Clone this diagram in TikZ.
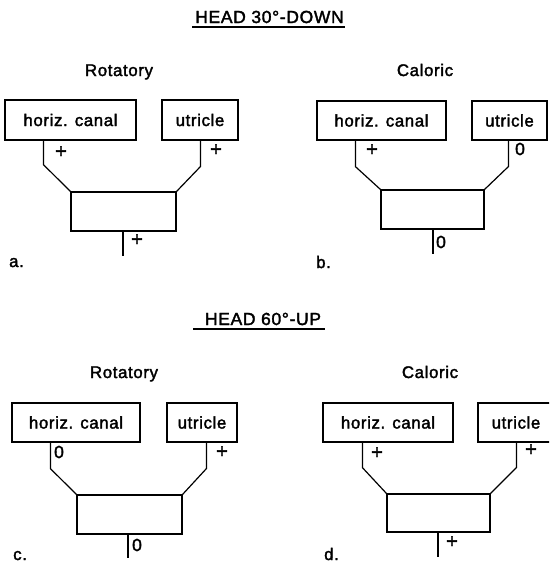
\documentclass[tikz,border=0pt]{standalone}
\usepackage{fontspec}
\setmainfont[LetterSpace=3.8,FakeBold=2]{Liberation Sans}
\begin{document}
\begin{tikzpicture}[x=1pt,y=-1pt,
  ttl/.style={font=\fontsize{17.5}{20}\selectfont, inner sep=0pt, anchor=base},
  hdg/.style={font=\fontsize{16.8}{20}\selectfont, inner sep=0pt, anchor=base},
  plab/.style={font=\fontsize{16.8}{20}\selectfont, inner sep=0pt, anchor=base west},
  sgnp/.style={font=\fontsize{20}{22}\selectfont, inner sep=0pt, anchor=center},
  sgnz/.style={font=\fontsize{17.5}{20}\selectfont, inner sep=0pt, anchor=center},
  boxn/.style={draw, line width=1.2pt, inner sep=0pt, minimum height=40pt, font=\fontsize{16.8}{20}\selectfont},
  sumn/.style={draw, line width=1.2pt, inner sep=0pt, minimum height=39pt},
  conn/.style={line width=1.2pt},
  uline/.style={line width=1.2pt}]
\useasboundingbox (0,0) rectangle (549,565);
\clip (0,0) rectangle (549,565);

% ---------- Title 1 ----------
\node[ttl] (t1) at (269.5,23) {HEAD 30°-DOWN};
\coordinate (t1l) at (192,27);
\coordinate (t1r) at (345,27);
\draw[uline] (t1l) -- (t1r);

% ---------- Panel a ----------
\node[hdg] (hA) at (119,76) {Rotatory};
\node[boxn, minimum width=131pt] (hcA) at (70.5,120) {horiz. canal};
\node[boxn, minimum width=76pt] (utA) at (200,120) {utricle};
\node[sumn, minimum width=105pt] (cmA) at (123.5,211.5) {};
\draw[conn] ([xshift=39pt]hcA.south west) -- ++(0,24) -- (cmA.north west);
\draw[conn] ([xshift=39pt]utA.south west) -- ++(0,26) -- (cmA.north east);
\coordinate (oA) at (123,256);
\draw[conn] ([xshift=-0.5pt]cmA.south) -- (oA);
\node[sgnp] (sA1) at (61,152) {+};
\node[sgnp] (sA2) at (216,150) {+};
\node[sgnp] (sA3) at (137,240) {+};
\node[plab] (pA) at (9,267) {a.};

% ---------- Panel b ----------
\node[hdg] (hB) at (425,76) {Caloric};
\node[boxn, minimum width=129pt, minimum height=39pt] (hcB) at (381.5,120.5) {horiz. canal};
\node[boxn, minimum width=75pt, minimum height=39pt] (utB) at (509.5,120.5) {utricle};
\node[sumn, minimum width=103pt] (cmB) at (432.5,209.5) {};
\draw[conn] ([xshift=39pt]hcB.south west) -- ++(0,26) -- (cmB.north west);
\draw[conn] ([xshift=37pt]utB.south west) -- ++(0,26) -- (cmB.north east);
\coordinate (oB) at (433,254);
\draw[conn] ([xshift=0.5pt]cmB.south) -- (oB);
\node[sgnp] (sB1) at (372,150) {+};
\node[sgnz] (sB2) at (520,149) {0};
\node[sgnz] (sB3) at (441,242) {0};
\node[plab] (pB) at (316,268) {b.};

% ---------- Title 2 ----------
\node[ttl] (t2) at (263,325) {HEAD 60°-UP};
\coordinate (t2l) at (193,329);
\coordinate (t2r) at (325,329);
\draw[uline] (t2l) -- (t2r);

% ---------- Panel c ----------
\node[hdg] (hC) at (124,378) {Rotatory};
\node[boxn, minimum width=128pt, minimum height=39pt] (hcC) at (76,422.5) {horiz. canal};
\node[boxn, minimum width=70pt, minimum height=39pt] (utC) at (202,422.5) {utricle};
\node[sumn, minimum width=105pt] (cmC) at (129.5,514.5) {};
\draw[conn] ([xshift=39pt]hcC.south west) -- ++(0,26) -- (cmC.north west);
\draw[conn] ([xshift=40pt]utC.south west) -- ++(0,26) -- (cmC.north east);
\coordinate (oC) at (128,558);
\draw[conn] ([xshift=-1.5pt]cmC.south) -- (oC);
\node[sgnz] (sC1) at (59,452) {0};
\node[sgnp] (sC2) at (222,452) {+};
\node[sgnz] (sC3) at (137,545) {0};
\node[plab] (pC) at (13,560) {c.};

% ---------- Panel d ----------
\node[hdg] (hD) at (430,378) {Caloric};
\node[boxn, minimum width=130pt, minimum height=39pt] (hcD) at (388,422.5) {horiz. canal};
\node[boxn, minimum width=76pt, minimum height=39pt] (utD) at (516,422.5) {utricle};
\node[sumn, minimum width=103pt, minimum height=38pt] (cmD) at (438.5,513) {};
\draw[conn] ([xshift=40pt]hcD.south west) -- ++(0,25) -- (cmD.north west);
\draw[conn] ([xshift=39pt]utD.south west) -- ++(0,25) -- (cmD.north east);
\coordinate (oD) at (438,557);
\draw[conn] ([xshift=-0.5pt]cmD.south) -- (oD);
\node[sgnp] (sD1) at (377,453) {+};
\node[sgnp] (sD2) at (531,450) {+};
\node[sgnp] (sD3) at (452,542) {+};
\node[plab] (pD) at (324,560) {d.};
\end{tikzpicture}
\end{document}
